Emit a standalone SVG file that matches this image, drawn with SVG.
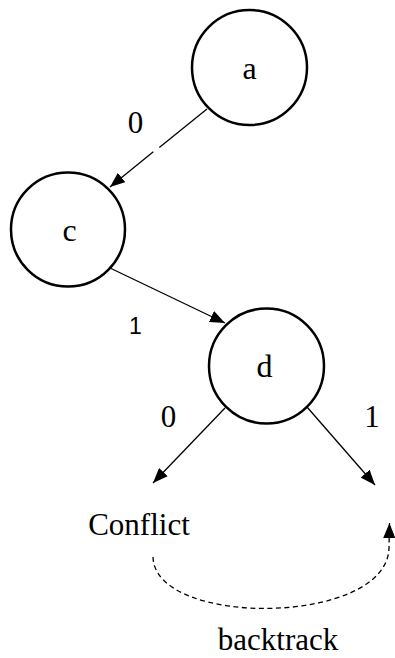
<svg xmlns="http://www.w3.org/2000/svg" width="395" height="658" viewBox="0 0 395 658">
<defs>
<style>
.node{fill:#fff;stroke:#000;stroke-width:2.5}
.lbl{font-family:"Liberation Serif","Times New Roman",serif;font-size:32px;fill:#000;text-anchor:middle}
.txt{font-family:"Liberation Serif","Times New Roman",serif;font-size:31px;fill:#000;text-anchor:middle}
.edge{fill:none;stroke:#000;stroke-width:1.3}
.dash{fill:none;stroke:#000;stroke-width:1.3;stroke-dasharray:5,3.5}
</style>
<marker id="ah" markerUnits="userSpaceOnUse" markerWidth="15" markerHeight="12" refX="15" refY="6" orient="auto">
<path d="M0,0 L15,6 L0,12 z" fill="#000"/>
</marker>
</defs>
<rect width="395" height="658" fill="#fff"/>
<g id="connectors">
<line class="edge" x1="207" y1="109" x2="159.3" y2="147.4"/>
<line class="edge" x1="153.3" y1="151.7" x2="110" y2="187" marker-end="url(#ah)"/>
<line class="edge" x1="110" y1="268" x2="225" y2="323" marker-end="url(#ah)"/>
<line class="edge" x1="225" y1="408" x2="153" y2="483" marker-end="url(#ah)"/>
<line class="edge" x1="307" y1="407" x2="375" y2="485" marker-end="url(#ah)"/>
<path class="dash" d="M153,557 C155,628 387,626 389,548 L389.5,523" marker-end="url(#ah)"/>
</g>
<g id="node-a">
<circle class="node" cx="249.5" cy="67.5" r="57.5"/>
<text class="lbl" x="249.5" y="79">a</text>
</g>
<g id="node-c">
<circle class="node" cx="68" cy="229.5" r="57"/>
<text class="lbl" x="69.5" y="241">c</text>
</g>
<g id="node-d">
<circle class="node" cx="266.5" cy="366" r="57.5"/>
<text class="lbl" x="264.5" y="377">d</text>
</g>
<g id="edge-labels">
<text class="txt" x="135.5" y="133">0</text>
<text x="135.5" y="334" style="font-family:'Liberation Sans',Arial,sans-serif;font-size:23px;text-anchor:middle">1</text>
<text class="txt" x="168.5" y="427">0</text>
<text class="txt" x="372" y="427">1</text>
</g>
<g id="node-conflict">
<text class="txt" x="139" y="535">Conflict</text>
</g>
<g id="label-backtrack">
<text class="txt" x="278" y="650">backtrack</text>
</g>
</svg>
